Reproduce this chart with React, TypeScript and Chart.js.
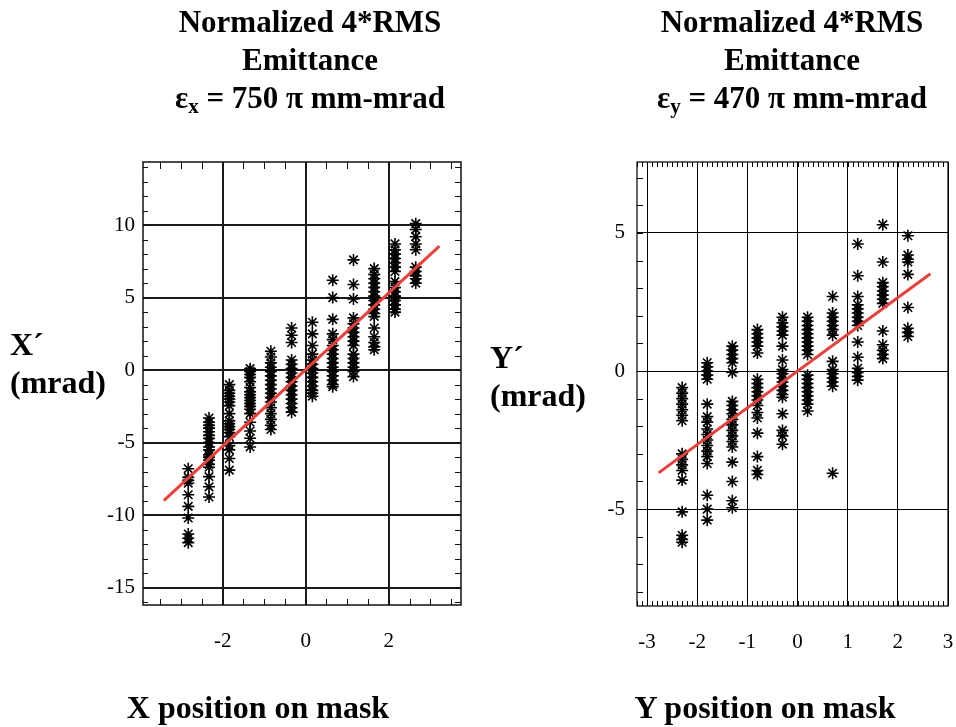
import React, { useEffect, useRef } from 'react';
import { Chart, registerables } from 'chart.js';

Chart.register(...registerables);

// ---- Horizontal plane: X position (mm) vs X' (mrad) ----
const X_COLUMNS = [-2.83, -2.33, -1.84, -1.34, -0.84, -0.34, 0.16, 0.65, 1.15, 1.65, 2.15, 2.65];
const XP_VALUES: number[][] = [
  [-6.8, -7.4, -7.6, -7.8, -8.6, -9.4, -10.2, -11.3, -11.6, -11.9],
  [-3.3, -3.6, -3.8, -4.0, -4.25, -4.5, -4.7, -5.0, -5.3, -5.5, -5.85, -6.0, -6.2, -6.5, -6.7, -7.35, -8.05, -8.75],
  [-1.0, -1.4, -1.6, -1.8, -2.0, -2.2, -2.45, -3.0, -3.5, -3.7, -3.9, -4.1, -4.3, -4.6, -5.2, -5.5, -6.1, -6.9],
  [0.1, -0.1, -0.3, -0.5, -0.8, -1.2, -1.5, -1.7, -1.9, -2.1, -2.3, -2.5, -2.7, -3.0, -3.6, -4.2, -4.7, -5.3],
  [1.3, 0.9, 0.5, 0.2, -0.1, -0.4, -0.7, -1.0, -1.3, -1.6, -1.9, -2.2, -2.6, -3.0, -3.4, -3.8, -4.1],
  [2.9, 2.4, 1.9, 0.7, 0.4, 0.1, -0.2, -0.5, -0.8, -1.1, -1.4, -1.7, -2.0, -2.3, -2.6, -2.9],
  [3.3, 2.5, 1.7, 1.1, 0.7, 0.4, 0.1, -0.2, -0.5, -0.8, -1.1, -1.4, -1.6, -1.8],
  [6.2, 5.0, 3.5, 2.5, 2.1, 1.7, 1.4, 1.1, 0.8, 0.5, 0.2, -0.1, -0.4, -0.7, -1.0, -1.15],
  [7.6, 5.9, 4.9, 3.6, 3.2, 2.9, 2.6, 2.3, 2.0, 1.7, 1.1, 0.8, 0.5, 0.2, -0.1, -0.45],
  [7.0, 6.6, 6.3, 6.0, 5.7, 5.4, 5.1, 4.8, 4.5, 4.2, 3.9, 3.7, 2.9, 2.3, 1.9, 1.6, 1.4],
  [8.7, 8.3, 8.0, 7.7, 7.4, 7.1, 6.8, 6.1, 5.7, 5.4, 5.1, 4.8, 4.5, 4.2, 4.0],
  [10.1, 9.7, 9.2, 8.7, 8.3, 7.1, 6.8, 6.5, 6.3, 6.0],
];
const X_FIT_LINE = [
  { x: -3.42, y: -9.0 },
  { x: 3.22, y: 8.55 },
];
const X_AXIS_TICKS = [-2, 0, 2];
const XP_AXIS_TICKS = [-15, -10, -5, 0, 5, 10];

// ---- Vertical plane: Y position (mm) vs Y' (mrad) ----
const Y_COLUMNS = [-2.3, -1.8, -1.3, -0.8, -0.3, 0.2, 0.7, 1.2, 1.7, 2.2];
const YP_VALUES: number[][] = [
  [-0.6, -0.8, -1.0, -1.2, -1.4, -1.6, -1.8, -3.0, -3.2, -3.4, -3.6, -3.95, -5.1, -5.95, -6.1, -6.2],
  [0.3, 0.15, 0.0, -0.15, -0.3, -1.2, -1.65, -1.85, -2.1, -2.3, -2.5, -2.7, -2.9, -3.1, -3.35, -4.5, -5.0, -5.4],
  [0.9, 0.75, 0.6, 0.45, 0.3, -0.05, -1.1, -1.25, -1.4, -1.55, -1.75, -1.95, -2.15, -2.35, -2.55, -2.75, -3.3, -4.0, -4.7, -4.95],
  [1.5, 1.35, 1.2, 1.05, 0.9, 0.65, -0.3, -0.45, -0.6, -0.75, -0.9, -1.05, -1.25, -1.5, -1.7, -2.25, -3.1, -3.6, -3.75],
  [1.95, 1.75, 1.6, 1.45, 1.3, 0.9, 0.4, 0.05, -0.1, -0.25, -0.4, -0.55, -0.7, -0.85, -0.95, -1.55, -2.15, -2.35, -2.65],
  [1.95, 1.8, 1.65, 1.5, 1.35, 1.2, 1.05, 0.9, 0.75, 0.6, -0.15, -0.3, -0.45, -0.6, -0.75, -0.9, -1.05, -1.2, -1.45],
  [2.7, 2.1, 1.95, 1.8, 1.65, 1.5, 1.3, 0.35, 0.05, -0.1, -0.25, -0.4, -0.55, -3.7],
  [4.6, 3.45, 2.7, 2.4, 2.25, 2.1, 1.95, 1.8, 1.65, 1.05, 0.5, 0.1, -0.05, -0.2, -0.33],
  [5.3, 3.95, 3.2, 3.05, 2.9, 2.75, 2.6, 2.45, 1.45, 0.95, 0.75, 0.6, 0.45],
  [4.9, 4.2, 4.05, 3.95, 3.5, 2.3, 1.55, 1.4, 1.25],
];
const Y_FIT_LINE = [
  { x: -2.77, y: -3.69 },
  { x: 2.65, y: 3.52 },
];
const Y_AXIS_TICKS = [-3, -2, -1, 0, 1, 2, 3];
const YP_AXIS_TICKS = [-5, 0, 5];

const SERIF = '"Liberation Serif", "Times New Roman", serif';
const FIT_RED = '#e8403a';

type Sides = { top?: number; bottom?: number; left?: number; right?: number };

// Draws the plot frame plus inward-pointing minor ticks along the chosen edges.
const frameTicks = {
  id: 'frameTicks',
  beforeDatasetsDraw(chart: any, _args: any, opts: any) {
    const { ctx, chartArea: a, scales } = chart;
    const xs = scales.x;
    const ys = scales.y;
    const sides: Sides = opts.sides || {};
    ctx.save();
    ctx.strokeStyle = opts.color || '#000';
    ctx.lineWidth = opts.tickWidth || 1;
    ctx.beginPath();
    if (opts.xStep) {
      const step = opts.xStep;
      for (let k = Math.ceil(xs.min / step - 1e-9); k * step <= xs.max + 1e-9; k++) {
        const px = Math.round(xs.getPixelForValue(k * step)) + 0.5;
        if (sides.top) {
          ctx.moveTo(px, a.top);
          ctx.lineTo(px, a.top + sides.top);
        }
        if (sides.bottom) {
          ctx.moveTo(px, a.bottom);
          ctx.lineTo(px, a.bottom - sides.bottom);
        }
      }
    }
    if (opts.yStep) {
      const step = opts.yStep;
      for (let k = Math.ceil(ys.min / step - 1e-9); k * step <= ys.max + 1e-9; k++) {
        const py = Math.round(ys.getPixelForValue(k * step)) + 0.5;
        if (sides.left) {
          ctx.moveTo(a.left, py);
          ctx.lineTo(a.left + sides.left, py);
        }
        if (sides.right) {
          ctx.moveTo(a.right, py);
          ctx.lineTo(a.right - sides.right, py);
        }
      }
    }
    ctx.stroke();
    ctx.lineWidth = opts.frameWidth || 1;
    ctx.strokeRect(a.left, a.top, a.right - a.left, a.bottom - a.top);
    ctx.restore();
  },
};

function columnsToPoints(columns: number[], values: number[][]) {
  return columns.flatMap((x, i) => values[i].map((y) => ({ x, y })));
}

type PanelProps = {
  columns: number[];
  values: number[][];
  fit: { x: number; y: number }[];
  xRange: [number, number];
  yRange: [number, number];
  xTicks: number[];
  yTicks: number[];
  areaLeft: number;
  areaRight: number;
  areaTop: number;
  areaBottom: number;
  yLabelPad: number;
  xLabelPad: number;
  gridWidth: number;
  gridColor: string;
  frame: any;
};

const CANVAS_W = 478;
const CANVAS_H = 727;

function EmittancePanel(p: PanelProps) {
  const ref = useRef<HTMLCanvasElement | null>(null);

  useEffect(() => {
    if (!ref.current) return;
    const tickFont = { family: SERIF, size: 21 };
    const chart = new Chart(ref.current, {
      type: 'scatter',
      data: {
        datasets: [
          {
            type: 'line',
            data: p.fit,
            borderColor: FIT_RED,
            borderWidth: 3,
            pointRadius: 0,
            fill: false,
            order: 0,
          } as any,
          {
            data: columnsToPoints(p.columns, p.values),
            pointStyle: 'star',
            pointRadius: 6,
            borderColor: '#000',
            backgroundColor: '#000',
            pointBorderWidth: 1.6,
            order: 1,
          } as any,
        ],
      },
      options: {
        animation: false,
        responsive: false,
        devicePixelRatio: 1,
        layout: {
          padding: {
            top: p.areaTop,
            right: CANVAS_W - p.areaRight,
            left: 0,
            bottom: 0,
          },
        },
        plugins: {
          legend: { display: false },
          tooltip: { enabled: false },
          frameTicks: p.frame,
        } as any,
        scales: {
          x: {
            type: 'linear',
            min: p.xRange[0],
            max: p.xRange[1],
            afterBuildTicks: (s: any) => {
              s.ticks = p.xTicks.map((v) => ({ value: v }));
            },
            afterFit: (s: any) => {
              s.height = CANVAS_H - p.areaBottom;
              s.paddingLeft = 0;
              s.paddingRight = 0;
            },
            grid: { color: p.gridColor, lineWidth: p.gridWidth, drawTicks: false },
            border: { display: false },
            ticks: {
              font: tickFont,
              color: '#000',
              padding: p.xLabelPad,
              maxRotation: 0,
              autoSkip: false,
            },
          },
          y: {
            type: 'linear',
            min: p.yRange[0],
            max: p.yRange[1],
            afterBuildTicks: (s: any) => {
              s.ticks = p.yTicks.map((v) => ({ value: v }));
            },
            afterFit: (s: any) => {
              s.width = p.areaLeft;
              s.paddingTop = 0;
              s.paddingBottom = 0;
            },
            grid: { color: p.gridColor, lineWidth: p.gridWidth, drawTicks: false },
            border: { display: false },
            ticks: {
              font: tickFont,
              color: '#000',
              padding: p.yLabelPad,
              autoSkip: false,
            },
          },
        },
      } as any,
      plugins: [frameTicks],
    });
    return () => chart.destroy();
  }, []);

  return <canvas ref={ref} width={CANVAS_W} height={CANVAS_H} style={{ display: 'block' }} />;
}

const boldText: React.CSSProperties = {
  position: 'absolute',
  fontFamily: SERIF,
  fontWeight: 'bold',
  color: '#000',
  whiteSpace: 'nowrap',
};

function Title({ center, sub, value }: { center: number; sub: string; value: string }) {
  return (
    <div
      style={{
        ...boldText,
        left: center - 220,
        width: 440,
        top: 3,
        fontSize: 31,
        lineHeight: '38px',
        textAlign: 'center',
      }}
    >
      <div>Normalized 4*RMS</div>
      <div>Emittance</div>
      <div>
        ε<span style={{ fontSize: 21, position: 'relative', top: 5 }}>{sub}</span> = {value} π mm-mrad
      </div>
    </div>
  );
}

export default function App() {
  return (
    <div
      style={{
        position: 'absolute',
        left: 0,
        top: 0,
        width: 956,
        height: 727,
        background: '#fff',
        overflow: 'hidden',
      }}
    >
      <div style={{ position: 'absolute', left: 0, top: 0 }}>
        <EmittancePanel
          columns={X_COLUMNS}
          values={XP_VALUES}
          fit={X_FIT_LINE}
          xRange={[-3.92, 3.74]}
          yRange={[-16.2, 14.35]}
          xTicks={X_AXIS_TICKS}
          yTicks={XP_AXIS_TICKS}
          areaLeft={143}
          areaRight={461}
          areaTop={162}
          areaBottom={605}
          yLabelPad={8}
          xLabelPad={24}
          gridWidth={2}
          gridColor="#1a1a1a"
          frame={{
            xStep: 0.5,
            yStep: 1,
            sides: { top: 7, bottom: 6, left: 5, right: 6 },
            frameWidth: 1.5,
            tickWidth: 1,
            color: '#111',
          }}
        />
      </div>
      <div style={{ position: 'absolute', left: 478, top: 0 }}>
        <EmittancePanel
          columns={Y_COLUMNS}
          values={YP_VALUES}
          fit={Y_FIT_LINE}
          xRange={[-3.2, 3.0]}
          yRange={[-8.51, 7.57]}
          xTicks={Y_AXIS_TICKS}
          yTicks={YP_AXIS_TICKS}
          areaLeft={159}
          areaRight={470}
          areaTop={162}
          areaBottom={606}
          yLabelPad={12}
          xLabelPad={24}
          gridWidth={1}
          gridColor="#000"
          frame={{
            xStep: 0.1,
            yStep: 1,
            sides: { top: 5, bottom: 5, left: 6 },
            frameWidth: 1.2,
            tickWidth: 1,
            color: '#000',
          }}
        />
      </div>

      <Title center={310} sub="x" value="750" />
      <Title center={792} sub="y" value="470" />

      <div style={{ ...boldText, left: 10, top: 325, fontSize: 32, lineHeight: '38px' }}>
        <div>X´</div>
        <div>(mrad)</div>
      </div>
      <div style={{ ...boldText, left: 490, top: 338, fontSize: 32, lineHeight: '38px' }}>
        <div>Y´</div>
        <div>(mrad)</div>
      </div>

      <div style={{ ...boldText, left: 58, width: 400, top: 689, fontSize: 32, lineHeight: '36px', textAlign: 'center' }}>
        X position on mask
      </div>
      <div style={{ ...boldText, left: 565, width: 400, top: 689, fontSize: 32, lineHeight: '36px', textAlign: 'center' }}>
        Y position on mask
      </div>
    </div>
  );
}
